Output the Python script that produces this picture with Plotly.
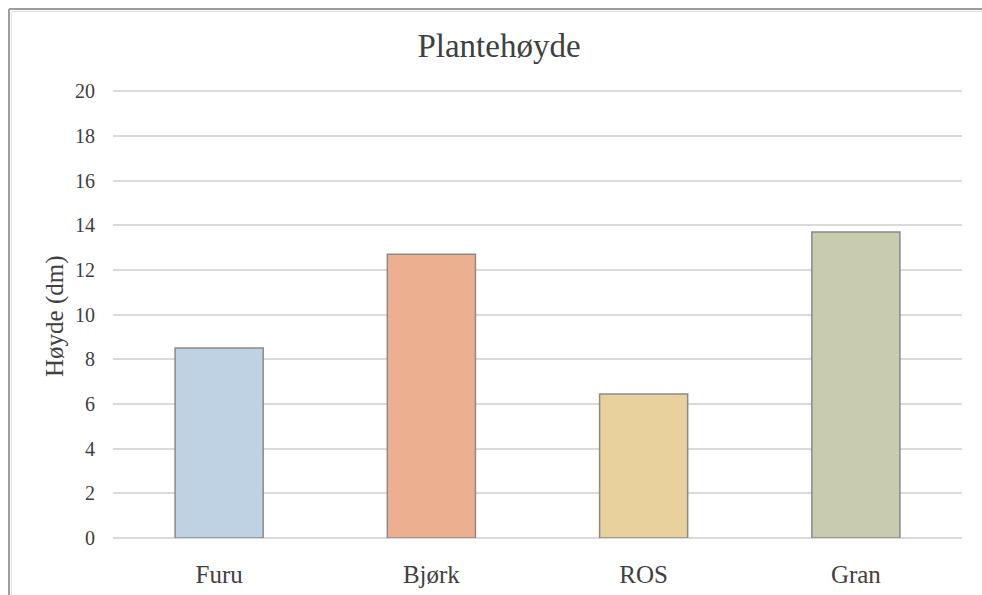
import plotly.graph_objects as go

# Plant heights per species (dm)
species = ["Furu", "Bjørk", "ROS", "Gran"]
heights = [8.5, 12.7, 6.45, 13.7]
bar_colors = ["#BFD2E4", "#ECB090", "#E8D19C", "#C8CBB0"]
y_ticks = [0, 2, 4, 6, 8, 10, 12, 14, 16, 18, 20]
y_max = 20.1  # a little headroom so the top gridline is drawn

W, H = 982, 595
L, R, B = 113, 20, 57
base_py = H - B          # pixel row of y = 0
top20_py = 91            # pixel row of y = 20
px_per_unit = (base_py - top20_py) / 20
T = int(round(base_py - px_per_unit * y_max))
plot_w, plot_h = W - L - R, H - T - B


def px_x(px):
    return (px - L) / plot_w


def px_y(py):
    return (H - B - py) / plot_h


serif = "Liberation Serif, Times New Roman, serif"
text_col = "#404040"

fig = go.Figure(
    go.Bar(
        x=species,
        y=heights,
        marker=dict(color=bar_colors, line=dict(color="#8A8A8A", width=1.5)),
        width=0.415,
    )
)

fig.update_layout(
    width=W,
    height=H,
    margin=dict(l=L, r=R, t=T, b=B, autoexpand=False),
    paper_bgcolor="white",
    plot_bgcolor="white",
    showlegend=False,
    title=dict(
        text="Plantehøyde",
        font=dict(family=serif, size=33, color=text_col),
        xref="container",
        x=499 / W,
        xanchor="center",
        yref="container",
        y=1 - 45 / H,
        yanchor="middle",
    ),
    xaxis=dict(
        automargin=False,
        showline=False,
        showgrid=False,
        ticks="outside",
        ticklen=14,
        tickcolor="rgba(0,0,0,0)",
        tickfont=dict(family=serif, size=25, color=text_col),
    ),
    yaxis=dict(
        automargin=False,
        range=[0, y_max],
        tickvals=y_ticks,
        showline=False,
        showgrid=True,
        gridcolor="#DADADA",
        gridwidth=1.5,
        zeroline=True,
        zerolinecolor="#DADADA",
        zerolinewidth=1.5,
        ticks="outside",
        ticklen=13,
        tickcolor="rgba(0,0,0,0)",
        tickfont=dict(family=serif, size=20, color=text_col),
    ),
    annotations=[
        dict(
            text="Høyde (dm)",
            textangle=-90,
            xref="paper",
            yref="paper",
            x=px_x(55),
            y=px_y(316),
            xanchor="center",
            yanchor="middle",
            showarrow=False,
            font=dict(family=serif, size=25, color=text_col),
        )
    ],
    shapes=[
        # chart frame (top and left edges)
        dict(type="line", xref="paper", yref="paper",
             x0=px_x(9), x1=px_x(1000), y0=px_y(9), y1=px_y(9),
             line=dict(color="#9C9C9C", width=2)),
        dict(type="line", xref="paper", yref="paper",
             x0=px_x(9), x1=px_x(9), y0=px_y(9), y1=px_y(620),
             line=dict(color="#9C9C9C", width=2)),
        dict(type="line", xref="paper", yref="paper",
             x0=px_x(11.5), x1=px_x(1000), y0=px_y(11.5), y1=px_y(11.5),
             line=dict(color="#E2E2E2", width=1)),
        dict(type="line", xref="paper", yref="paper",
             x0=px_x(11.5), x1=px_x(11.5), y0=px_y(11.5), y1=px_y(620),
             line=dict(color="#E2E2E2", width=1)),
    ],
)

fig.write_html("out.html")
